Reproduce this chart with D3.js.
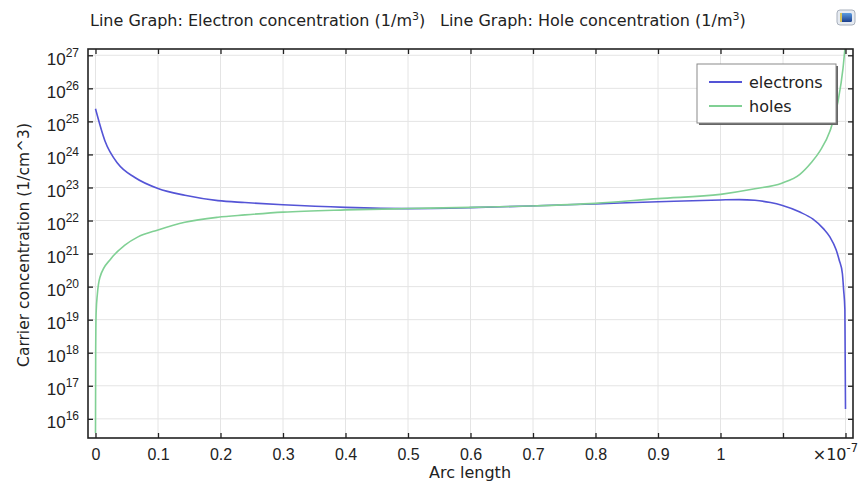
<!DOCTYPE html>
<html>
<head>
<meta charset="utf-8">
<script src="https://cdn.jsdelivr.net/npm/d3@7"></script>
<style>
  body { margin: 0; background: #fff; }
  svg { display: block; font-family: "DejaVu Sans", sans-serif; }
</style>
</head>
<body>
<div id="chart"></div>
<script>
// Arc length in units of 1e-7 m, concentrations in 1/cm^3
var electronX = [0, 0.015, 0.036, 0.063, 0.1, 0.143, 0.196, 0.239, 0.3, 0.4, 0.5, 0.6, 0.695, 0.8, 0.9, 1.0, 1.03, 1.055, 1.08, 1.098, 1.127, 1.148, 1.165, 1.175, 1.185, 1.19, 1.195, 1.197, 1.199, 1.2];
var electrons = [2.4e25, 2.6e24, 5.2e23, 2.0e23, 9.3e22, 5.8e22, 4.0e22, 3.5e22, 3.0e22, 2.5e22, 2.3e22, 2.45e22, 2.75e22, 3.2e22, 3.7e22, 4.2e22, 4.3e22, 4.1e22, 3.5e22, 2.9e22, 1.8e22, 1.1e22, 5.6e21, 3.2e21, 1.3e21, 6.3e20, 2.5e20, 8e19, 2e19, 2e16];

var holeX = [0, 0.0003, 0.001, 0.003, 0.007, 0.025, 0.047, 0.068, 0.1, 0.143, 0.196, 0.239, 0.3, 0.4, 0.5, 0.6, 0.695, 0.8, 0.9, 1.0, 1.055, 1.098, 1.127, 1.145, 1.159, 1.175, 1.188, 1.196, 1.2];
var holes = [3.7e15, 1e18, 1.6e19, 6e19, 1.9e20, 7.1e20, 1.8e21, 3.2e21, 5.2e21, 8.9e21, 1.26e22, 1.48e22, 1.8e22, 2.1e22, 2.3e22, 2.5e22, 2.75e22, 3.3e22, 4.6e22, 6.2e22, 9.1e22, 1.35e23, 2.5e23, 5.6e23, 1.26e24, 5.0e24, 4.0e25, 4.0e26, 2.5e27];

var xTicks = [0, 0.1, 0.2, 0.3, 0.4, 0.5, 0.6, 0.7, 0.8, 0.9, 1.0, 1.1, 1.2];
var xTickLabels = ['0', '0.1', '0.2', '0.3', '0.4', '0.5', '0.6', '0.7', '0.8', '0.9', '1', '', ''];
var yExponents = [16, 17, 18, 19, 20, 21, 22, 23, 24, 25, 26, 27];

var seriesNames = ['electrons', 'holes'];
var seriesColors = ['#5454d6', '#80d094'];

var width = 860;
var height = 487;
var plotLeft = 88, plotRight = 853, plotTop = 49, plotBottom = 438;

var svg = d3.select('#chart').append('svg')
  .attr('width', width)
  .attr('height', height);

var x = d3.scaleLinear().domain([-0.012, 1.212]).range([plotLeft, plotRight]);
var y = d3.scaleLog().domain([Math.pow(10, 15.42), Math.pow(10, 27.19)]).range([plotBottom, plotTop]);
var yTicks = yExponents.map(function(e) { return Math.pow(10, e); });

// title
svg.append('text')
  .attr('x', 90).attr('y', 26)
  .style('font-size', '16px').attr('fill', '#222')
  .html('Line Graph: Electron concentration (1/m<tspan dy="-6" font-size="11">3</tspan><tspan dy="6">)</tspan>');
svg.append('text')
  .attr('x', 440).attr('y', 26)
  .style('font-size', '16px').attr('fill', '#222')
  .html('Line Graph: Hole concentration (1/m<tspan dy="-6" font-size="11">3</tspan><tspan dy="6">)</tspan>');

// little icon top right
var grad = svg.append('defs').append('linearGradient')
  .attr('id', 'icon').attr('x1', 0).attr('y1', 0).attr('x2', 0).attr('y2', 1);
grad.append('stop').attr('offset', 0).attr('stop-color', '#5b9be0');
grad.append('stop').attr('offset', 1).attr('stop-color', '#1c3f8c');
svg.append('rect').attr('x', 837).attr('y', 10).attr('width', 18).attr('height', 15)
  .attr('rx', 3).attr('fill', '#e6ebf2').attr('stroke', '#a8b0bc');
svg.append('rect').attr('x', 840).attr('y', 13).attr('width', 12).attr('height', 9)
  .attr('rx', 1.5).attr('fill', 'url(#icon)');
svg.append('rect').attr('x', 840).attr('y', 13).attr('width', 2).attr('height', 9)
  .attr('fill', '#d8c25a');

// grid
var g = svg.append('g');
g.selectAll('.vgrid').data(xTicks).enter().append('line')
  .attr('x1', function(d) { return x(d); }).attr('x2', function(d) { return x(d); })
  .attr('y1', plotTop).attr('y2', plotBottom)
  .attr('stroke', '#e4e4e4').attr('stroke-width', 1);
g.selectAll('.hgrid').data(yTicks).enter().append('line')
  .attr('y1', function(d) { return y(d); }).attr('y2', function(d) { return y(d); })
  .attr('x1', plotLeft).attr('x2', plotRight)
  .attr('stroke', '#e4e4e4').attr('stroke-width', 1);

// curves
svg.append('clipPath').attr('id', 'plot').append('rect')
  .attr('x', plotLeft).attr('y', plotTop).attr('width', plotRight - plotLeft).attr('height', plotBottom - plotTop);

var line = d3.line()
  .x(function(d) { return x(d[0]); })
  .y(function(d) { return y(d[1]); })
  .curve(d3.curveMonotoneX);

var series = [d3.zip(electronX, electrons), d3.zip(holeX, holes)];
svg.append('g').attr('clip-path', 'url(#plot)')
  .selectAll('path').data(series).enter().append('path')
  .attr('d', line)
  .attr('fill', 'none')
  .attr('stroke', function(d, i) { return seriesColors[i]; })
  .attr('stroke-width', 1.6);

// axes, ticks pointing inward
var xAxis = svg.append('g').attr('transform', 'translate(0,' + plotBottom + ')')
  .call(d3.axisBottom(x).tickValues(xTicks).tickSizeInner(-5).tickSizeOuter(0).tickPadding(11)
    .tickFormat(function(d, i) { return xTickLabels[i]; }));
svg.append('g').attr('transform', 'translate(0,' + plotTop + ')')
  .call(d3.axisTop(x).tickValues(xTicks).tickSizeInner(-5).tickSizeOuter(0).tickFormat(''));
var yAxis = svg.append('g').attr('transform', 'translate(' + plotLeft + ',0)')
  .call(d3.axisLeft(y).tickValues(yTicks).tickSizeInner(-5).tickSizeOuter(0).tickFormat(''));
svg.append('g').attr('transform', 'translate(' + plotRight + ',0)')
  .call(d3.axisRight(y).tickValues(yTicks).tickSizeInner(-5).tickSizeOuter(0).tickFormat(''));

svg.selectAll('.domain').remove();
svg.selectAll('.tick line').attr('stroke', '#222').attr('stroke-width', 1.3);
xAxis.selectAll('text').style('font-size', '16px').attr('fill', '#222').attr('dy', '0.71em');

// y labels with superscripts
yAxis.selectAll('.tick').each(function(d, i) {
  var t = d3.select(this).append('text')
    .attr('x', -9).attr('y', 9)
    .attr('text-anchor', 'end')
    .attr('fill', '#222')
    .style('font-size', '17px');
  t.append('tspan').text('10');
  t.append('tspan').attr('dy', -8).style('font-size', '12px').text(yExponents[i]);
});

// multiplier label
var mult = svg.append('text')
  .attr('x', 858).attr('y', 460)
  .attr('text-anchor', 'end').attr('fill', '#222')
  .style('font-size', '16px');
mult.append('tspan').text('\u00d710');
mult.append('tspan').attr('dy', -8).style('font-size', '11.5px').text('-7');

// frame
svg.append('rect')
  .attr('x', plotLeft).attr('y', plotTop).attr('width', plotRight - plotLeft).attr('height', plotBottom - plotTop)
  .attr('fill', 'none').attr('stroke', '#222').attr('stroke-width', 1.6);

// axis titles
svg.append('text')
  .attr('x', 470).attr('y', 478)
  .attr('text-anchor', 'middle').attr('fill', '#222')
  .style('font-size', '16px')
  .text('Arc length');
svg.append('text')
  .attr('transform', 'translate(29,245) rotate(-90)')
  .attr('text-anchor', 'middle').attr('fill', '#222')
  .style('font-size', '15.5px')
  .text('Carrier concentration (1/cm^3)');

// legend
var legend = svg.append('g').attr('transform', 'translate(697,64)');
legend.append('rect').attr('x', 2).attr('y', 2).attr('width', 139).attr('height', 59)
  .attr('fill', '#666');
legend.append('rect').attr('width', 139).attr('height', 59)
  .attr('fill', '#fff').attr('stroke', '#8a8a8a').attr('stroke-width', 1);
legend.selectAll('.item').data(seriesNames).enter().append('g')
  .attr('transform', function(d, i) { return 'translate(0,' + (18 + i * 24) + ')'; })
  .each(function(d, i) {
    var item = d3.select(this);
    item.append('line').attr('x1', 12).attr('x2', 45)
      .attr('stroke', seriesColors[i]).attr('stroke-width', 2);
    item.append('text').attr('x', 52).attr('y', 5.5)
      .attr('fill', '#222').style('font-size', '16px').text(d);
  });
</script>
</body>
</html>
